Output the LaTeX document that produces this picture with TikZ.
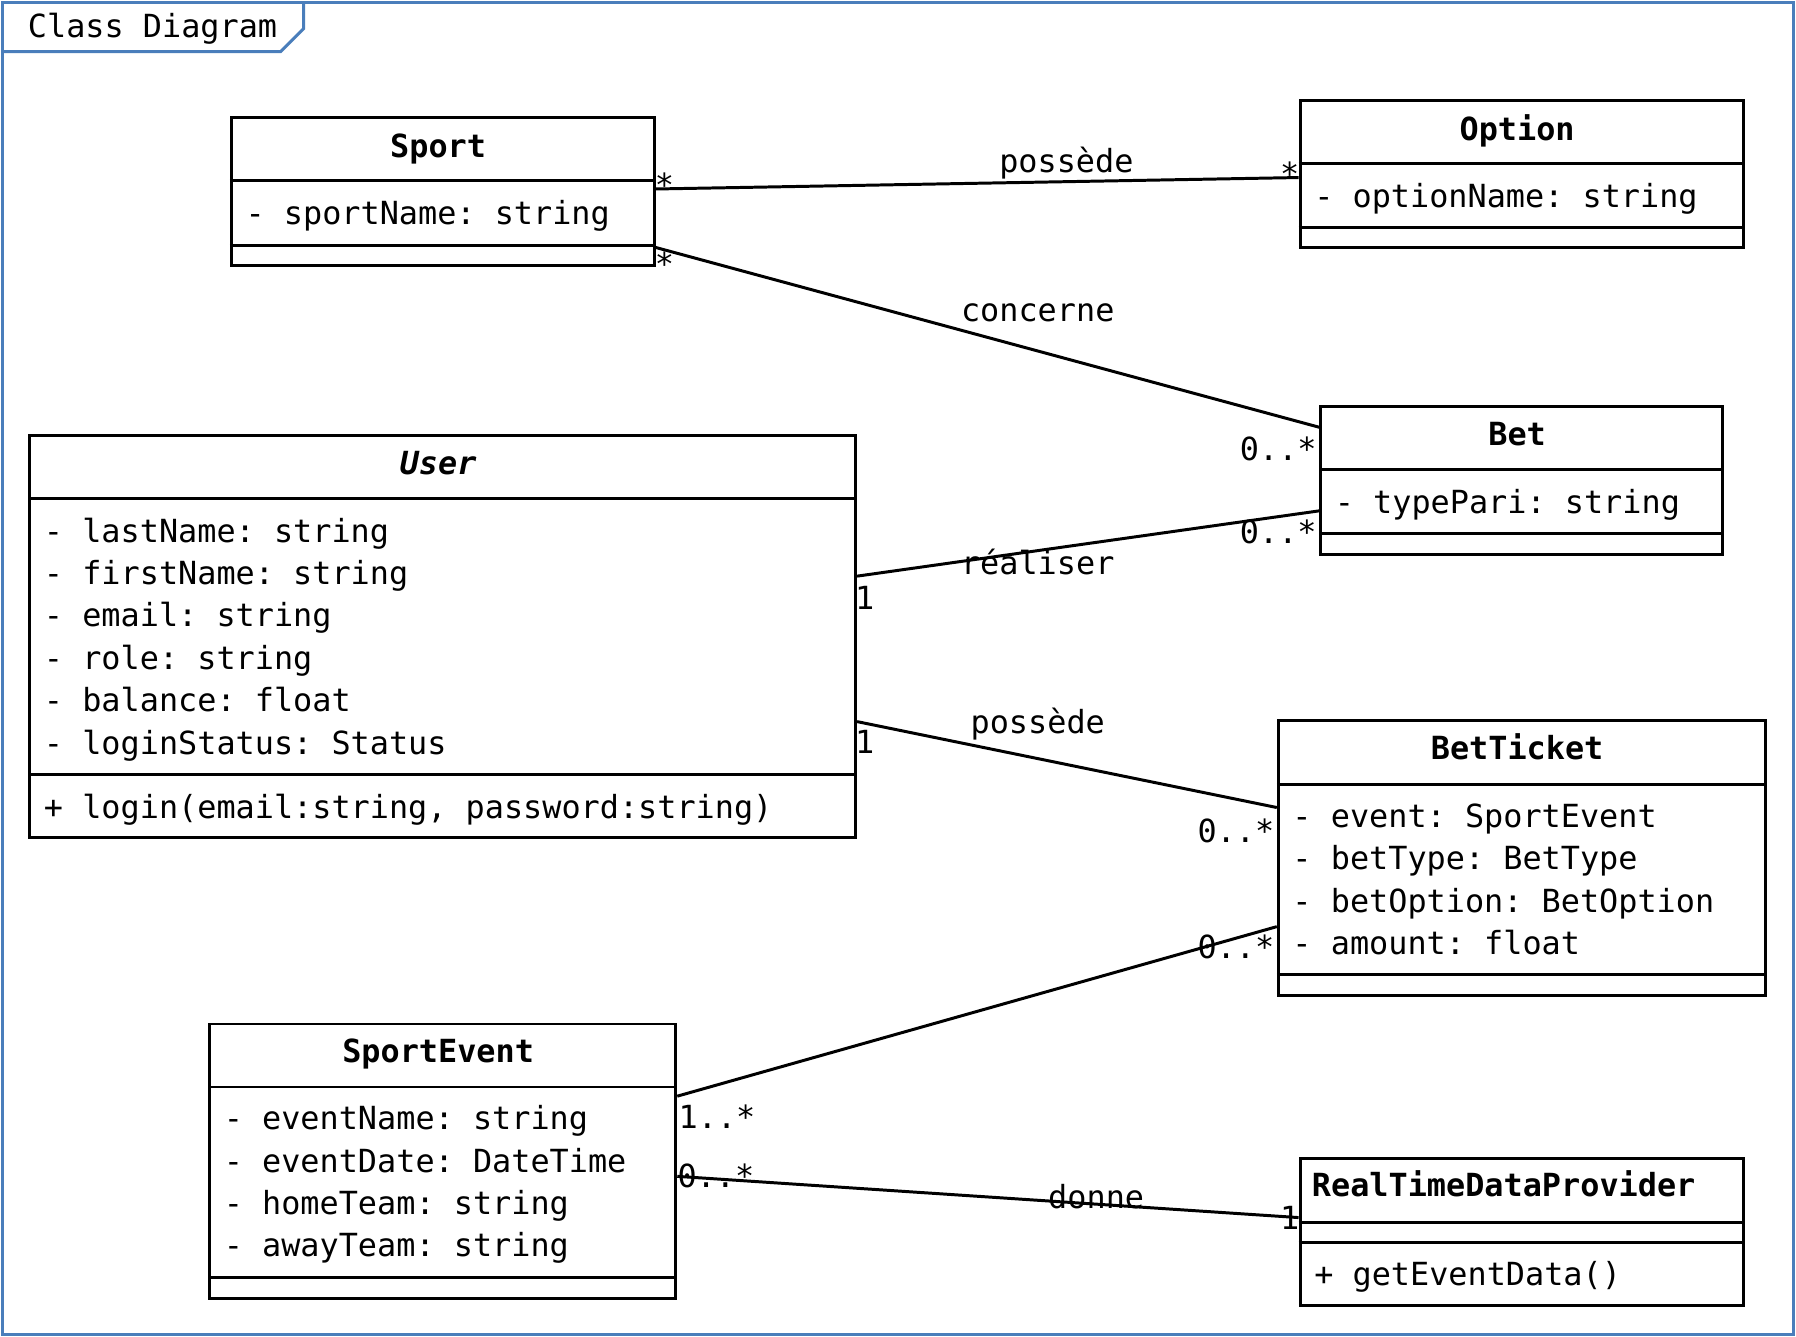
\documentclass[tikz,border=0pt]{standalone}
\usepackage{fontspec}
\setmonofont{DejaVu Sans Mono}
\usetikzlibrary{fit}
\definecolor{frameblue}{RGB}{74,126,187}
\begin{document}
\begin{tikzpicture}[x=0.5pt,y=-0.5pt,
  every node/.style={font=\ttfamily\fontsize{13.9}{16}\selectfont, inner sep=0pt},
  classbox/.style={draw, line width=1.3pt, inner sep=0pt},
  sepline/.style={line width=1.3pt},
  assoc/.style={line width=1.3pt},
  cname/.style={font=\ttfamily\bfseries\fontsize{13.9}{16}\selectfont, anchor=mid, yshift=-3pt, xshift=-2pt},
  cnameleft/.style={font=\ttfamily\bfseries\fontsize{13.9}{16}\selectfont, anchor=mid west, yshift=-3pt},
  attr/.style={anchor=mid west, yshift=-3pt},
  mult/.style={anchor=center},
  rlabel/.style={anchor=mid, yshift=-3pt}]
\useasboundingbox (0,0) rectangle (1568,1167);
% frame
\draw[frameblue, line width=1.3pt] (2,2) rectangle (1566,1165);
\draw[frameblue, line width=1.3pt] (2,45) -- (245,45) -- (265,25) -- (265,2);
\node[anchor=mid west, yshift=-3pt] (title) at (24,22) {Class Diagram};

% Sport
\node[classbox, fit={(202,103) (571,232)}] (sport) {};
\draw[sepline] (sport.west |- 0,158) -- (sport.east |- 0,158);
\draw[sepline] (sport.west |- 0,214) -- (sport.east |- 0,214);
\node[cname] (sportT) at (386.5,127) {Sport};
\node[attr] (sportA1) at (214,186) {- sportName: string};

% Option
\node[classbox, fit={(1135,88) (1522,216)}] (option) {};
\draw[sepline] (option.west |- 0,143) -- (option.east |- 0,143);
\draw[sepline] (option.west |- 0,199) -- (option.east |- 0,199);
\node[cname] (optionT) at (1328.5,112) {Option};
\node[attr] (optionA1) at (1147,171) {- optionName: string};

% Bet
\node[classbox, fit={(1153,355) (1504,484)}] (bet) {};
\draw[sepline] (bet.west |- 0,410) -- (bet.east |- 0,410);
\draw[sepline] (bet.west |- 0,466) -- (bet.east |- 0,466);
\node[cname] (betT) at (1328.5,379) {Bet};
\node[attr] (betA1) at (1165,438) {- typePari: string};

% User
\node[classbox, fit={(26,380) (747,731)}] (user) {};
\draw[sepline] (user.west |- 0,435) -- (user.east |- 0,435);
\draw[sepline] (user.west |- 0,676) -- (user.east |- 0,676);
\node[cname, font=\ttfamily\bfseries\itshape\fontsize{13.9}{16}\selectfont] (userT) at (386.5,404) {User};
\node[attr] (userA1) at (38,463) {- lastName: string};
\node[attr] (userA2) at (38,500) {- firstName: string};
\node[attr] (userA3) at (38,537) {- email: string};
\node[attr] (userA4) at (38,574) {- role: string};
\node[attr] (userA5) at (38,611) {- balance: float};
\node[attr] (userA6) at (38,648) {- loginStatus: Status};
\node[attr] (userM1) at (38,704) {+ login(email:string, password:string)};

% BetTicket
\node[classbox, fit={(1116,629) (1541,869)}] (ticket) {};
\draw[sepline] (ticket.west |- 0,685) -- (ticket.east |- 0,685);
\draw[sepline] (ticket.west |- 0,851) -- (ticket.east |- 0,851);
\node[cname] (ticketT) at (1328.5,653) {BetTicket};
\node[attr] (ticketA1) at (1128,712) {- event: SportEvent};
\node[attr] (ticketA2) at (1128,749) {- betType: BetType};
\node[attr] (ticketA3) at (1128,786) {- betOption: BetOption};
\node[attr] (ticketA4) at (1128,823) {- amount: float};

% SportEvent
\node[classbox, fit={(183,894) (590,1134)}] (event) {};
\draw[sepline] (event.west |- 0,949) -- (event.east |- 0,949);
\draw[sepline] (event.west |- 0,1115) -- (event.east |- 0,1115);
\node[cname] (eventT) at (386.5,917) {SportEvent};
\node[attr] (eventA1) at (195,976) {- eventName: string};
\node[attr] (eventA2) at (195,1013) {- eventDate: DateTime};
\node[attr] (eventA3) at (195,1050) {- homeTeam: string};
\node[attr] (eventA4) at (195,1087) {- awayTeam: string};

% RealTimeDataProvider
\node[classbox, fit={(1135,1011) (1522,1140)}] (rtdp) {};
\draw[sepline] (rtdp.west |- 0,1067) -- (rtdp.east |- 0,1067);
\draw[sepline] (rtdp.west |- 0,1085) -- (rtdp.east |- 0,1085);
\node[cnameleft] (rtdpT) at (1145,1034) {RealTimeDataProvider};
\node[attr] (rtdpM1) at (1147,1112) {+ getEventData()};

% connection points
\coordinate (p1a) at (sport.east |- 0,165);
\coordinate (p1b) at (option.west |- 0,155);
\coordinate (p2a) at (sport.east |- 0,216);
\coordinate (p2b) at (bet.west |- 0,373);
\coordinate (p3a) at (user.east |- 0,503);
\coordinate (p3b) at (bet.west |- 0,446);
\coordinate (p4a) at (user.east |- 0,630);
\coordinate (p4b) at (ticket.west |- 0,705);
\coordinate (p5a) at (event.east |- 0,957);
\coordinate (p5b) at (ticket.west |- 0,809);
\coordinate (p6a) at (event.east |- 0,1027);
\coordinate (p6b) at (rtdp.west |- 0,1063);

% connectors
\draw[assoc] (p1a) -- (p1b);
\draw[assoc] (p2a) -- (p2b);
\draw[assoc] (p3a) -- (p3b);
\draw[assoc] (p4a) -- (p4b);
\draw[assoc] (p5a) -- (p5b);
\draw[assoc] (p6a) -- (p6b);

% association labels
\node[rlabel] (l1) at (931,140) {possède};
\node[rlabel] (l2) at (906,270) {concerne};
\node[rlabel] (l3) at (906,491) {réaliser};
\node[rlabel] (l4) at (906,630) {possède};
\node[rlabel] (l6) at (957,1045) {donne};

% multiplicities
\node[mult] (m1a) at (580,161) {*};
\node[mult] (m1b) at (1126,152) {*};
\node[mult] (m2a) at (580,230) {*};
\node[mult] (m2b) at (1116,392) {0..*};
\node[mult] (m3a) at (755,522) {1};
\node[mult] (m3b) at (1116,464) {0..*};
\node[mult] (m4a) at (755,648) {1};
\node[mult] (m4b) at (1079,725) {0..*};
\node[mult] (m5a) at (626,975) {1..*};
\node[mult] (m5b) at (1079,827) {0..*};
\node[mult] (m6a) at (625,1027) {0..*};
\node[mult] (m6b) at (1126,1063) {1};
\end{tikzpicture}
\end{document}
